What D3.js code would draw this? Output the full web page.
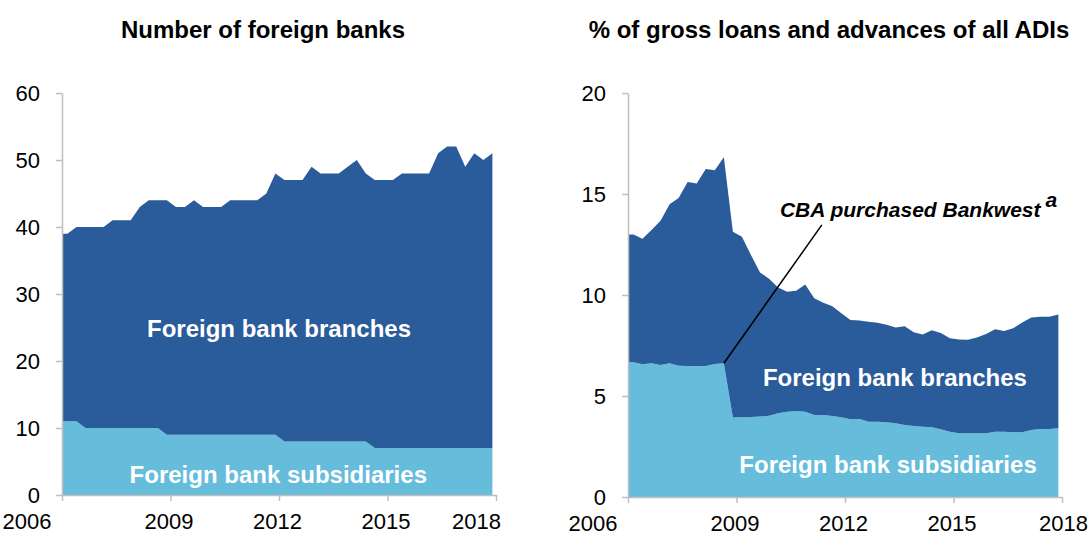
<!DOCTYPE html>
<html>
<head>
<meta charset="utf-8">
<script src="https://cdn.jsdelivr.net/npm/d3@7"></script>
<style>
body { margin: 0; background: #fff; }
text { font-family: "Liberation Sans", Arial, sans-serif; }
.axis path, .axis line { stroke: #bfbfbf; stroke-width: 1.5; }
.axis text { fill: #000; font-size: 22px; }
</style>
</head>
<body>
<div id="chart"></div>
<script>
var quarters = [
  "2006-Q1","2006-Q2","2006-Q3","2006-Q4","2007-Q1","2007-Q2","2007-Q3","2007-Q4",
  "2008-Q1","2008-Q2","2008-Q3","2008-Q4","2009-Q1","2009-Q2","2009-Q3","2009-Q4",
  "2010-Q1","2010-Q2","2010-Q3","2010-Q4","2011-Q1","2011-Q2","2011-Q3","2011-Q4",
  "2012-Q1","2012-Q2","2012-Q3","2012-Q4","2013-Q1","2013-Q2","2013-Q3","2013-Q4",
  "2014-Q1","2014-Q2","2014-Q3","2014-Q4","2015-Q1","2015-Q2","2015-Q3","2015-Q4",
  "2016-Q1","2016-Q2","2016-Q3","2016-Q4","2017-Q1","2017-Q2","2017-Q3","2017-Q4"
];

// number of foreign banks
var countSubsidiaries = [11,11,10,10,10,10,10,10,10,10,10,9,9,9,9,9,9,9,9,9,9,9,9,9,
  8,8,8,8,8,8,8,8,8,8,7,7,7,7,7,7,7,7,7,7,7,7,7,7];
var countBranches = [28,29,30,30,30,31,31,31,33,34,34,35,34,34,35,34,34,34,35,35,35,35,36,39,
  39,39,39,41,40,40,40,41,42,40,40,40,40,41,41,41,41,44,45,45,42,44,43,44];

// % of gross loans and advances of all ADIs
var shareSubsidiaries = [6.67,6.57,6.62,6.53,6.62,6.50,6.49,6.49,6.49,6.58,6.62,3.93,3.95,3.96,3.98,4.02,
  4.14,4.22,4.26,4.22,4.06,4.06,4.01,3.95,3.85,3.86,3.73,3.73,3.70,3.65,3.56,3.51,
  3.48,3.45,3.35,3.23,3.15,3.15,3.15,3.15,3.23,3.23,3.20,3.20,3.32,3.37,3.37,3.40];
var shareBranches = [6.33,6.22,6.60,7.15,7.87,8.30,9.11,9.03,9.75,9.60,10.20,9.20,8.93,8.02,7.14,6.78,
  6.23,5.94,5.95,6.30,5.78,5.56,5.43,5.15,4.91,4.88,4.95,4.90,4.83,4.74,4.89,4.65,
  4.57,4.80,4.77,4.63,4.65,4.63,4.75,4.92,5.07,4.99,5.15,5.44,5.57,5.55,5.55,5.64];

var yearTicks = [2006, 2009, 2012, 2015, 2018];
var countTicks = [0, 10, 20, 30, 40, 50, 60];
var shareTicks = [0, 5, 10, 15, 20];

var darkBlue = "#2a5b9a",
    lightBlue = "#65bcdb";

var svg = d3.select("#chart")
    .append("svg")
    .attr("width", 1092)
    .attr("height", 535);

function quarterDate(q) {
    var p = q.split("-Q");
    return +p[0] + (+p[1] - 1) * 0.25 + 0.15;
}

function drawPanel(opts) {
    var x = d3.scaleLinear().domain([2006, 2018]).range([opts.left, opts.right]);
    var y = d3.scaleLinear().domain([0, opts.yMax]).range([opts.bottom, opts.top]);

    var rows = quarters.map(function (q, i) {
        return { date: quarterDate(q), subs: opts.subs[i], branches: opts.branches[i] };
    });
    // area starts at the axis
    rows.unshift({ date: 2006, subs: opts.subs[0], branches: opts.branches[0] });

    var stacked = d3.stack().keys(["subs", "branches"])(rows);
    var area = d3.area()
        .x(function (d) { return x(d.data.date); })
        .y0(function (d) { return y(d[0]); })
        .y1(function (d) { return y(d[1]); });

    var g = svg.append("g");
    g.selectAll("path.layer")
        .data(stacked)
        .enter()
        .append("path")
        .attr("class", "layer")
        .attr("d", area)
        .style("fill", function (d) { return d.key == "subs" ? lightBlue : darkBlue; });

    g.append("g")
        .attr("class", "axis")
        .attr("transform", "translate(" + opts.left + ",0)")
        .call(d3.axisLeft(y).tickValues(opts.ticks).tickSize(6).tickSizeOuter(0).tickPadding(16))
        .call(function (a) { a.selectAll("text").attr("dy", "0.36em"); });

    var xa = g.append("g")
        .attr("class", "axis")
        .attr("transform", "translate(0," + opts.bottom + ")")
        .call(d3.axisBottom(x).tickValues(yearTicks).tickFormat(d3.format("d")).tickSize(6).tickSizeOuter(0).tickPadding(8));
    xa.selectAll("text").attr("dy", "0.9em");
    // first label sits left of the axis, last one may be pulled inside
    xa.selectAll(".tick text")
        .attr("x", function (d) { return d == 2006 ? -11 : (d == 2018 ? opts.lastShift : -2); })
        .attr("text-anchor", function (d) { return d == 2006 ? "end" : "middle"; });

    svg.append("text")
        .attr("x", (opts.left + opts.right) / 2 - 16)
        .attr("y", 38)
        .attr("text-anchor", "middle")
        .style("font-size", "24px")
        .style("font-weight", "bold")
        .text(opts.title);

    opts.labels.forEach(function (l) {
        svg.append("text")
            .attr("x", x(l.at[0]))
            .attr("y", y(l.at[1]))
            .attr("text-anchor", "middle")
            .attr("dy", "0.35em")
            .style("font-size", "24px")
            .style("font-weight", "bold")
            .style("fill", "#fff")
            .text(l.text);
    });

    return { x: x, y: y, g: g };
}

drawPanel({
    left: 62, right: 496, top: 93, bottom: 495, yMax: 60, lastShift: -20,
    ticks: countTicks, subs: countSubsidiaries, branches: countBranches,
    title: "Number of foreign banks",
    labels: [
        { text: "Foreign bank branches", at: [2012, 24.8] },
        { text: "Foreign bank subsidiaries", at: [2011.98, 3.1] }
    ]
});

var right = drawPanel({
    left: 628, right: 1062, top: 93, bottom: 497, yMax: 20, lastShift: 1,
    ticks: shareTicks, subs: shareSubsidiaries, branches: shareBranches,
    title: "% of gross loans and advances of all ADIs",
    labels: [
        { text: "Foreign bank branches", at: [2013.38, 5.9] },
        { text: "Foreign bank subsidiaries", at: [2013.19, 1.6] }
    ]
});

// annotation: CBA purchase of Bankwest
var k = quarters.indexOf("2008-Q3");
svg.append("line")
    .attr("x1", right.x(2011.36))
    .attr("y1", right.y(13.47))
    .attr("x2", right.x(quarterDate(quarters[k])))
    .attr("y2", right.y(shareSubsidiaries[k]))
    .style("stroke", "#000")
    .style("stroke-width", 1.5);

var note = svg.append("text")
    .attr("x", right.x(2010.2))
    .attr("y", 217)
    .style("font-size", "21px")
    .style("font-weight", "bold")
    .style("font-style", "italic");
note.append("tspan").text("CBA purchased Bankwest");
note.append("tspan")
    .attr("dx", 5)
    .attr("dy", -10)
    .style("font-size", "21px")
    .text("a");
</script>
</body>
</html>
